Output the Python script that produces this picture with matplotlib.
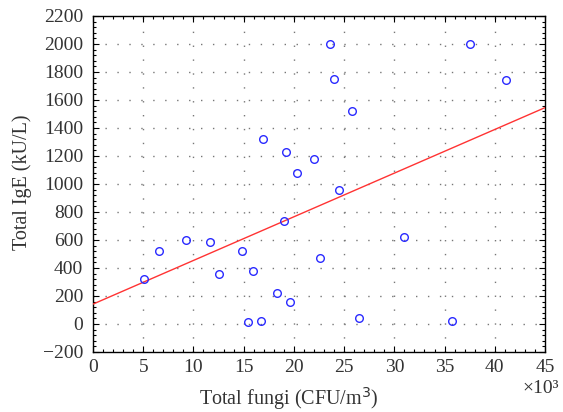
import numpy as np
import matplotlib
matplotlib.use("Agg")
import matplotlib.pyplot as plt
from matplotlib.ticker import MultipleLocator

# Data (fungi in thousands of CFU/m^3, IgE in kU/L)
fungi = [23.6, 37.5, 24.0, 41.1, 25.8, 16.9, 19.2, 22.0, 20.3, 24.5,
         19.0, 31.0, 9.3, 11.6, 6.6, 14.8, 22.6, 5.1, 12.5, 15.9,
         18.3, 19.65, 15.4, 16.7, 26.5, 35.7]
ige = [2000, 2000, 1750, 1740, 1520, 1320, 1230, 1180, 1080, 960,
       735, 625, 600, 585, 525, 525, 475, 325, 355, 380,
       225, 160, 15, 20, 45, 20]
xticks = [0, 5, 10, 15, 20, 25, 30, 35, 40, 45]
yticks = list(range(-200, 2201, 200))

plt.rcParams['font.family'] = ['Liberation Serif', 'DejaVu Serif']

fig = plt.figure(figsize=(5.63, 4.12), dpi=100)
ax = fig.add_axes([93/563, 1-352/412, (545-93)/563, (352-16)/412])

x = np.array(fungi)
y = np.array(ige)
slope, intercept = np.polyfit(x, y, 1)
xl = np.array([0, 45])
ax.plot(xl, intercept + slope*xl, color='#ff3333', lw=1.0, zorder=3)
ax.plot(x, y, 'o', mfc='none', mec='#2a2aff', ms=5.5, mew=1.0, zorder=4)

ax.set_xlim(0, 45)
ax.set_ylim(-200, 2200)
ax.set_xticks(xticks)
ax.set_yticks(yticks)
ax.set_yticklabels([("\u2212%d" % -v) if v < 0 else "%d" % v for v in yticks])
ax.xaxis.set_minor_locator(MultipleLocator(1))
ax.yaxis.set_minor_locator(MultipleLocator(40))
ax.tick_params(which='both', direction='in', top=True, right=True, labelsize=14,
               colors='black', labelcolor='#333333')
ax.tick_params(which='major', length=4, width=0.8)
ax.tick_params(axis='y', which='major', pad=7)
ax.tick_params(axis='x', which='major', pad=5)
ax.tick_params(which='minor', length=2.5, width=0.8)
for s in ax.spines.values():
    s.set_linewidth(1.0)

for xv in xticks[1:-1]:
    ax.axvline(xv, color='#777777', lw=1.0, ls=(0, (1, 9)), zorder=1)
for yv in yticks[1:-1]:
    ax.axhline(yv, color='#777777', lw=1.0, ls=(0, (1, 7.6)), zorder=1)

fig.text(289/563, 1-399/412, "Total fungi (CFU/m$^3$)", ha='center', va='center',
         fontsize=14.5, color='#333333')
fig.text(22/563, 1-182/412, "Total IgE (kU/L)", ha='center', va='center',
         rotation=90, fontsize=14.5, color='#333333')
fig.text(541/563, 1-393/412, "\u00d710\u00b3", ha='center', va='baseline',
         fontsize=14, color='#333333')

fig.savefig("out.png", dpi=100)
